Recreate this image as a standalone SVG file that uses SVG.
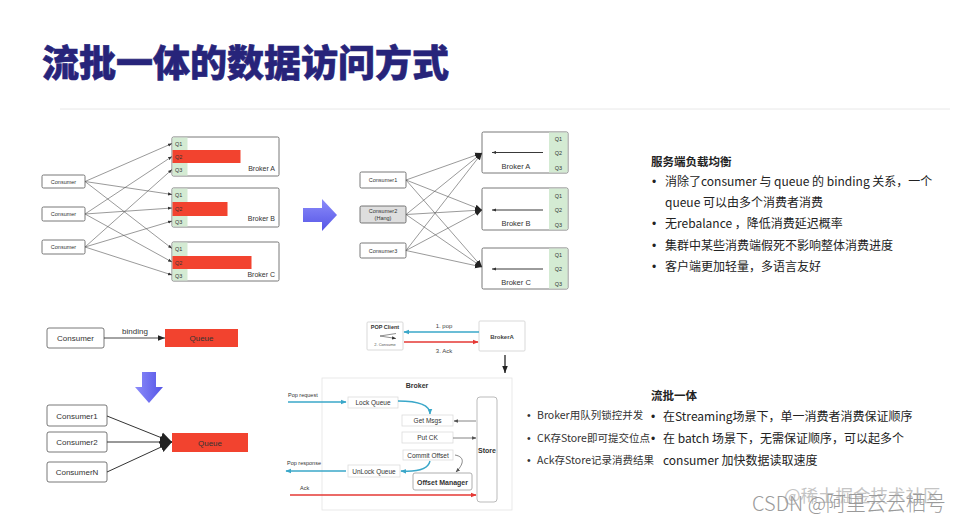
<svg xmlns="http://www.w3.org/2000/svg" width="960" height="521" viewBox="0 0 960 521">
<style>
.lat{font-family:"Liberation Sans","Noto Sans CJK SC",sans-serif;}
.cjk{font-family:"Noto Sans CJK SC","Noto Sans",sans-serif;}
.dot{font-family:"Liberation Sans",sans-serif;}
.box{fill:#fff;stroke:#555;stroke-width:0.8;}
.lbox{fill:#fff;stroke:#dcdcdc;stroke-width:0.8;}
.grn{fill:#d4ebd3;}
.red{fill:#f2432f;}
.ln{stroke:#555;stroke-width:0.6;fill:none;}
.t5{font-size:5.5px;fill:#333;}
.t6{font-size:6.5px;fill:#333;}
.t8{font-size:8px;fill:#333;}
.teal{stroke:#3aa7c9;stroke-width:1.4;fill:none;}
.redl{stroke:#e53935;stroke-width:1.4;fill:none;}
.gray{stroke:#666;stroke-width:0.8;fill:none;}
.bul{font-size:12px;fill:#222;}
.sbul{font-size:10.5px;fill:#333;}
</style>
<defs>
<marker id="ahs" viewBox="0 0 10 10" refX="10" refY="5" markerWidth="4" markerHeight="4" markerUnits="userSpaceOnUse" orient="auto"><path d="M0,1 L10,5 L0,9 z" fill="#333"/></marker>
<marker id="ahm" viewBox="0 0 10 10" refX="10" refY="5" markerWidth="7" markerHeight="7" markerUnits="userSpaceOnUse" orient="auto"><path d="M0,1 L10,5 L0,9 z" fill="#222"/></marker>
<marker id="ahb" viewBox="0 0 10 10" refX="10" refY="5" markerWidth="12" markerHeight="12" markerUnits="userSpaceOnUse" orient="auto"><path d="M0,0.5 L10,5 L0,9.5 z" fill="#222"/></marker>
<marker id="aht" viewBox="0 0 10 10" refX="9" refY="5" markerWidth="6" markerHeight="6" markerUnits="userSpaceOnUse" orient="auto"><path d="M0,1 L10,5 L0,9 z" fill="#3aa7c9"/></marker>
<marker id="ahr" viewBox="0 0 10 10" refX="9" refY="5" markerWidth="6" markerHeight="6" markerUnits="userSpaceOnUse" orient="auto"><path d="M0,1 L10,5 L0,9 z" fill="#e53935"/></marker>
<marker id="ahg" viewBox="0 0 10 10" refX="9" refY="5" markerWidth="4.5" markerHeight="4.5" markerUnits="userSpaceOnUse" orient="auto"><path d="M0,1 L10,5 L0,9 z" fill="#555"/></marker>
<linearGradient id="blueR" x1="0" y1="0" x2="0" y2="1"><stop offset="0" stop-color="#8c8cfa"/><stop offset="1" stop-color="#5555e6"/></linearGradient>
<linearGradient id="blueD" x1="0" y1="0" x2="1" y2="0"><stop offset="0" stop-color="#8c8cfa"/><stop offset="1" stop-color="#5555e6"/></linearGradient>
</defs>
<rect width="960" height="521" fill="#fff"/>

<g id="title">
<text x="42" y="77" class="cjk" font-size="37" font-weight="900" fill="#27247a" stroke="#27247a" stroke-width="0.6">流批一体的数据访问方式</text>
<line x1="60" y1="109" x2="950" y2="109" stroke="#e8e8e8" stroke-width="1"/>
</g>

<!-- Top-left diagram -->
<g id="tl-consumer1"><rect class="box" x="42" y="175" width="43" height="13" rx="1.5"/><text class="lat t5" x="63.5" y="183.5" text-anchor="middle">Consumer</text></g>
<g id="tl-consumer2"><rect class="box" x="42" y="207" width="43" height="14" rx="1.5"/><text class="lat t5" x="63.5" y="216" text-anchor="middle">Consumer</text></g>
<g id="tl-consumer3"><rect class="box" x="42" y="240" width="43" height="14" rx="1.5"/><text class="lat t5" x="63.5" y="249" text-anchor="middle">Consumer</text></g>
<g id="tl-brokerA">
<rect class="box" x="172" y="137" width="107" height="39" rx="1.5"/>
<rect class="grn" x="172.5" y="137.5" width="15" height="38"/>
<rect class="red" x="172.5" y="150" width="68" height="13"/>
<text class="lat t5" x="175" y="145.5">Q1</text><text class="lat t5" x="175" y="158.5">Q2</text><text class="lat t5" x="175" y="171.5">Q3</text>
<text class="lat" font-size="7" fill="#333" x="275" y="171" text-anchor="end">Broker A</text>
</g>
<g id="tl-brokerB">
<rect class="box" x="172" y="188" width="107" height="39" rx="1.5"/>
<rect class="grn" x="172.5" y="188.5" width="15" height="38"/>
<rect class="red" x="172.5" y="202" width="55" height="14"/>
<text class="lat t5" x="175" y="197">Q1</text><text class="lat t5" x="175" y="211">Q2</text><text class="lat t5" x="175" y="224">Q3</text>
<text class="lat" font-size="7" fill="#333" x="275" y="221" text-anchor="end">Broker B</text>
</g>
<g id="tl-brokerC">
<rect class="box" x="172" y="242" width="107" height="39" rx="1.5"/>
<rect class="grn" x="172.5" y="242.5" width="15" height="38"/>
<rect class="red" x="172.5" y="256" width="79" height="13"/>
<text class="lat t5" x="175" y="251">Q1</text><text class="lat t5" x="175" y="264.5">Q2</text><text class="lat t5" x="175" y="277.5">Q3</text>
<text class="lat" font-size="7" fill="#333" x="275" y="277" text-anchor="end">Broker C</text>
</g>
<g id="tl-connectors">
<line class="ln" x1="85" y1="181.5" x2="172" y2="143.5" marker-end="url(#ahs)"/>
<line class="ln" x1="85" y1="181.5" x2="172" y2="194.5" marker-end="url(#ahs)"/>
<line class="ln" x1="85" y1="181.5" x2="172" y2="248.5" marker-end="url(#ahs)"/>
<line class="ln" x1="85" y1="214" x2="172" y2="156.5" marker-end="url(#ahs)"/>
<line class="ln" x1="85" y1="214" x2="172" y2="208" marker-end="url(#ahs)"/>
<line class="ln" x1="85" y1="214" x2="172" y2="262" marker-end="url(#ahs)"/>
<line class="ln" x1="85" y1="247" x2="172" y2="169.5" marker-end="url(#ahs)"/>
<line class="ln" x1="85" y1="247" x2="172" y2="221" marker-end="url(#ahs)"/>
<line class="ln" x1="85" y1="247" x2="172" y2="275" marker-end="url(#ahs)"/>
</g>

<g id="arrow-right"><path d="M303,208 L322,208 L322,199 L337,215 L322,231 L322,222 L303,222 Z" fill="url(#blueR)"/></g>

<!-- Top-middle diagram -->
<g id="tm-consumer1"><rect class="box" x="360" y="172" width="46" height="16" rx="1.5"/><text class="lat t5" x="383" y="182" text-anchor="middle">Consumer1</text></g>
<g id="tm-consumer2"><rect x="360" y="206" width="46" height="17" rx="1.5" fill="#dedede" stroke="#555" stroke-width="0.8"/><text class="lat t5" x="383" y="213" text-anchor="middle">Consumer2</text><text class="lat t5" x="383" y="220" text-anchor="middle">(Hang)</text></g>
<g id="tm-consumer3"><rect class="box" x="360" y="243" width="46" height="15" rx="1.5"/><text class="lat t5" x="383" y="252.5" text-anchor="middle">Consumer3</text></g>
<g id="tm-brokerA">
<rect class="box" x="482" y="132" width="86" height="41" rx="1.5"/>
<rect class="grn" x="549" y="132.5" width="18.5" height="40"/>
<text class="lat t5" x="558.5" y="141" text-anchor="middle">Q1</text><text class="lat t5" x="558.5" y="155" text-anchor="middle">Q2</text><text class="lat t5" x="558.5" y="170" text-anchor="middle">Q3</text>
<line x1="543" y1="152.5" x2="492" y2="152.5" stroke="#222" stroke-width="0.9" marker-end="url(#ahs)"/>
<text class="lat" font-size="7.5" fill="#333" x="516" y="169" text-anchor="middle">Broker A</text>
</g>
<g id="tm-brokerB">
<rect class="box" x="482" y="188" width="86" height="42" rx="1.5"/>
<rect class="grn" x="549" y="188.5" width="18.5" height="41"/>
<text class="lat t5" x="558.5" y="198" text-anchor="middle">Q1</text><text class="lat t5" x="558.5" y="212" text-anchor="middle">Q2</text><text class="lat t5" x="558.5" y="227" text-anchor="middle">Q3</text>
<line x1="543" y1="210" x2="492" y2="210" stroke="#222" stroke-width="0.9" marker-end="url(#ahs)"/>
<text class="lat" font-size="7.5" fill="#333" x="516" y="226" text-anchor="middle">Broker B</text>
</g>
<g id="tm-brokerC">
<rect class="box" x="482" y="248" width="86" height="41" rx="1.5"/>
<rect class="grn" x="549" y="248.5" width="18.5" height="40"/>
<text class="lat t5" x="558.5" y="257" text-anchor="middle">Q1</text><text class="lat t5" x="558.5" y="271" text-anchor="middle">Q2</text><text class="lat t5" x="558.5" y="286" text-anchor="middle">Q3</text>
<line x1="543" y1="269" x2="492" y2="269" stroke="#222" stroke-width="0.9" marker-end="url(#ahs)"/>
<text class="lat" font-size="7.5" fill="#333" x="516" y="285" text-anchor="middle">Broker C</text>
</g>
<g id="tm-connectors">
<line class="ln" x1="406" y1="180" x2="482" y2="153" marker-end="url(#ahm)"/>
<line class="ln" x1="406" y1="180" x2="482" y2="210" marker-end="url(#ahm)"/>
<line class="ln" x1="406" y1="180" x2="482" y2="267" marker-end="url(#ahm)"/>
<line class="ln" x1="406" y1="214.5" x2="482" y2="153" marker-end="url(#ahm)"/>
<line class="ln" x1="406" y1="214.5" x2="482" y2="210" marker-end="url(#ahm)"/>
<line class="ln" x1="406" y1="214.5" x2="482" y2="267" marker-end="url(#ahm)"/>
<line class="ln" x1="406" y1="250.5" x2="482" y2="153" marker-end="url(#ahm)"/>
<line class="ln" x1="406" y1="250.5" x2="482" y2="210" marker-end="url(#ahm)"/>
<line class="ln" x1="406" y1="250.5" x2="482" y2="267" marker-end="url(#ahm)"/>
</g>

<!-- Right text 1 -->
<g id="text-server-balance" class="cjk">
<text x="651" y="166" font-size="11.5" font-weight="700" fill="#222">服务端负载均衡</text>
<text class="bul dot" x="652" y="186">•</text><text class="bul" x="665" y="186">消除了consumer 与 queue 的 binding 关系，一个</text>
<text class="bul" x="665" y="207">queue 可以由多个消费者消费</text>
<text class="bul dot" x="652" y="228">•</text><text class="bul" x="665" y="228">无rebalance ，降低消费延迟概率</text>
<text class="bul dot" x="652" y="250">•</text><text class="bul" x="665" y="250">集群中某些消费端假死不影响整体消费进度</text>
<text class="bul dot" x="652" y="271">•</text><text class="bul" x="665" y="271">客户端更加轻量，多语言友好</text>
</g>

<!-- Bottom-left -->
<g id="bl-consumer"><rect class="box" x="47" y="328" width="57" height="20" rx="2"/><text class="lat t8" x="75.5" y="341" text-anchor="middle">Consumer</text></g>
<g id="bl-queue"><rect class="red" x="165" y="329" width="73" height="18"/><text class="lat t8" x="201.5" y="341" text-anchor="middle" fill="#7a1c14">Queue</text></g>
<g id="arrow-down"><path d="M142,372 L156,372 L156,387 L163,387 L149,403 L135,387 L142,387 Z" fill="url(#blueD)"/></g>
<g id="bl-consumer1"><rect class="box" x="47" y="405" width="60" height="21" rx="2"/><text class="lat t8" x="77" y="418.5" text-anchor="middle">Consumer1</text></g>
<g id="bl-consumer2"><rect class="box" x="47" y="432" width="60" height="20" rx="2"/><text class="lat t8" x="77" y="445" text-anchor="middle">Consumer2</text></g>
<g id="bl-consumerN"><rect class="box" x="47" y="462" width="60" height="20" rx="2"/><text class="lat t8" x="77" y="475" text-anchor="middle">ConsumerN</text></g>
<g id="bl-queue2"><rect class="red" x="172" y="433" width="76" height="19"/><text class="lat t8" x="210" y="445.5" text-anchor="middle" fill="#7a1c14">Queue</text></g>
<g id="bl-connectors">
<line x1="104" y1="338" x2="165" y2="338" stroke="#333" stroke-width="0.9" marker-end="url(#ahm)"/>
<text class="lat t8" x="135" y="334" text-anchor="middle">binding</text>
<line x1="107" y1="416" x2="172" y2="442" stroke="#333" stroke-width="1" marker-end="url(#ahb)"/>
<line x1="107" y1="442" x2="172" y2="442" stroke="#333" stroke-width="1" marker-end="url(#ahb)"/>
<line x1="107" y1="472" x2="172" y2="442" stroke="#333" stroke-width="1" marker-end="url(#ahb)"/>
</g>

<!-- Bottom-middle -->
<g id="pop-client">
<rect x="367" y="322" width="36" height="28" fill="#fff" stroke="#cfcfcf" stroke-width="0.8" rx="1"/>
<text class="lat" font-size="5.5" font-weight="700" fill="#333" x="385" y="329" text-anchor="middle">POP Client</text>
<path d="M396,333.5 L380,336 L396,338.5" fill="none" stroke="#444" stroke-width="0.6" marker-end="url(#ahs)"/>
<text class="lat" font-size="4" fill="#555" x="385" y="346" text-anchor="middle">2. Consume</text>
</g>
<g id="brokerA">
<rect x="479" y="321" width="46" height="30" fill="#fff" stroke="#cfcfcf" stroke-width="0.8" rx="1"/>
<text class="lat" font-size="6" font-weight="700" fill="#444" x="502" y="339" text-anchor="middle">BrokerA</text>
</g>
<g id="broker-big">
<rect x="322" y="378" width="190" height="132" fill="#fff" stroke="#e3e3e3" stroke-width="0.8"/>
<text class="lat" font-size="7" font-weight="700" fill="#333" x="417" y="388" text-anchor="middle">Broker</text>
</g>
<g id="lock-queue"><rect class="lbox" x="348" y="397" width="50" height="11"/><text class="lat t6" x="373" y="405" text-anchor="middle">Lock Queue</text></g>
<g id="get-msgs"><rect class="lbox" x="402" y="415" width="51" height="11"/><text class="lat t6" x="427.5" y="423" text-anchor="middle">Get Msgs</text></g>
<g id="put-ck"><rect class="lbox" x="402" y="432" width="51" height="11"/><text class="lat t6" x="427.5" y="440" text-anchor="middle">Put CK</text></g>
<g id="commit-offset"><rect class="lbox" x="403" y="450" width="50" height="10"/><text class="lat t6" x="428" y="457.5" text-anchor="middle">Commit Offset</text></g>
<g id="unlock-queue"><rect class="lbox" x="348" y="465" width="52" height="12"/><text class="lat t6" x="374" y="473.5" text-anchor="middle">UnLock Queue</text></g>
<g id="offset-manager"><rect x="413" y="473" width="59" height="17" fill="#fff" stroke="#999" stroke-width="0.8" rx="2"/><text class="lat" font-size="7" font-weight="700" fill="#333" x="442.5" y="484.5" text-anchor="middle">Offset Manager</text></g>
<g id="store"><rect x="477" y="397" width="20" height="105" fill="#fff" stroke="#aaa" stroke-width="0.8" rx="3"/><text class="lat" font-size="7" font-weight="700" fill="#333" x="487" y="453" text-anchor="middle">Store</text></g>
<g id="bm-connectors">
<line class="teal" x1="479" y1="332" x2="404" y2="332" marker-end="url(#aht)"/>
<text class="lat" font-size="6" fill="#444" x="444" y="328" text-anchor="middle">1. pop</text>
<line class="redl" x1="404" y1="342" x2="478" y2="342" marker-end="url(#ahr)"/>
<text class="lat" font-size="6" fill="#444" x="444" y="353" text-anchor="middle">3. Ack</text>
<line x1="505" y1="355" x2="505" y2="373" stroke="#111" stroke-width="1.2" marker-end="url(#ahm)"/>
<text class="lat" font-size="5.5" fill="#333" x="288" y="397">Pop request</text>
<line class="teal" x1="288" y1="402" x2="346" y2="402" marker-end="url(#aht)"/>
<path class="teal" d="M398,401 C420,401 430,405 430,414" marker-end="url(#aht)"/>
<line class="gray" x1="476" y1="421" x2="454" y2="421" marker-end="url(#ahg)"/>
<line class="gray" x1="453" y1="438" x2="476" y2="438" marker-end="url(#ahg)"/>
<path class="gray" d="M455,455 C466,457 463,465 456,472" marker-end="url(#ahg)"/>
<path class="teal" d="M430,461 C428,470 417,472 401,471" marker-end="url(#aht)"/>
<text class="lat" font-size="5.5" fill="#333" x="287" y="465">Pop response</text>
<line class="teal" x1="346" y1="471" x2="286" y2="471" marker-end="url(#aht)"/>
<text class="lat" font-size="5.5" fill="#333" x="300" y="490">Ack</text>
<line class="redl" x1="290" y1="495" x2="476" y2="495" marker-end="url(#ahr)"/>
</g>

<!-- Bottom small bullets -->
<g id="text-broker-notes" class="cjk">
<text class="sbul dot" x="527" y="419">•</text><text class="sbul" x="537" y="419">Broker用队列锁控并发</text>
<text class="sbul dot" x="527" y="442">•</text><text class="sbul" x="537" y="442">CK存Store即可提交位点</text>
<text class="sbul dot" x="527" y="464">•</text><text class="sbul" x="537" y="464">Ack存Store记录消费结果</text>
</g>

<g id="text-stream-batch" class="cjk">
<text x="651" y="400" font-size="11.5" font-weight="700" fill="#222">流批一体</text>
<text class="bul dot" x="651" y="421">•</text><text class="bul" x="663" y="421">在Streaming场景下，单一消费者消费保证顺序</text>
<text class="bul dot" x="651" y="443">•</text><text class="bul" x="663" y="443">在 batch 场景下，无需保证顺序，可以起多个</text>
<text class="bul" x="663" y="465">consumer 加快数据读取速度</text>
</g>

<g id="watermark" class="cjk">
<text x="784" y="502" font-size="17.5" fill="#c4c4c4">@稀土掘金技术社区</text>
<text x="752" y="511" font-size="20" fill="#9a9a9a" font-weight="300">CSDN @阿里云云栖号</text>
</g>
</svg>
